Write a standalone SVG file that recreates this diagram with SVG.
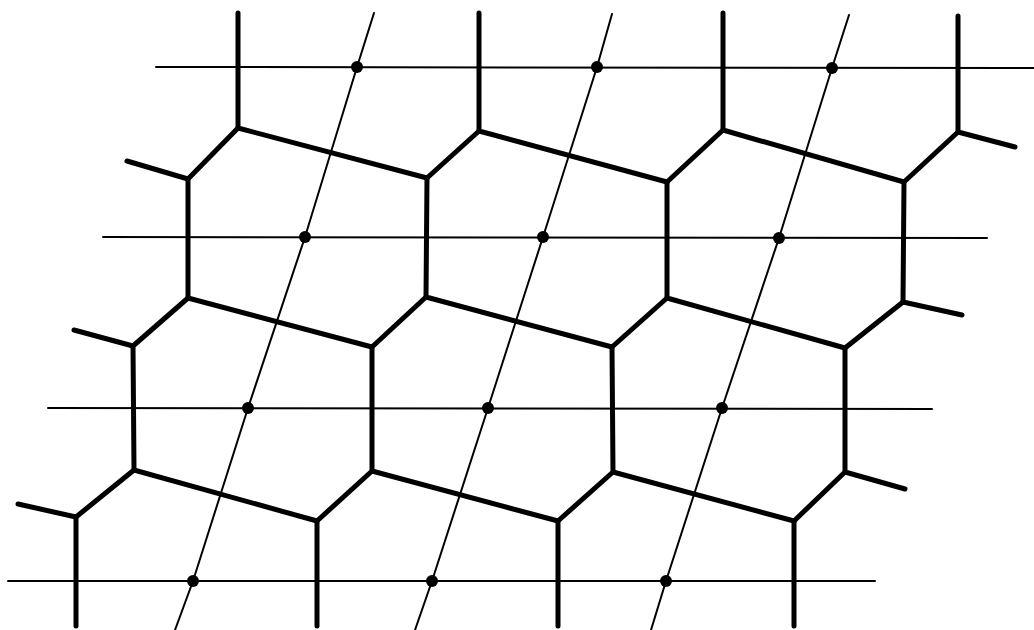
<svg xmlns="http://www.w3.org/2000/svg" width="1034" height="630" viewBox="0 0 1034 630">
<style>
.thin{stroke:#000;stroke-width:2;fill:none;stroke-linecap:round}
.thick{stroke:#000;stroke-width:5;fill:none;stroke-linecap:round;stroke-linejoin:round}
.dot{fill:#000}
</style>
<rect width="1034" height="630" fill="#fff"/>
<g id="lattice-lines">
<line class="thin" x1="156" y1="67" x2="1034" y2="68"/>
<line class="thin" x1="103" y1="237" x2="987" y2="238"/>
<line class="thin" x1="48" y1="408" x2="932" y2="409"/>
<line class="thin" x1="8" y1="581" x2="875" y2="581"/>
<polyline class="thin" points="374,13 357,67 305,237 248,408 193,581 175,630"/>
<polyline class="thin" points="612,14 597,67 543,237 488,408 432,581 415,630"/>
<polyline class="thin" points="849,15 832,68 779,238 722,408 666,581 651,630"/>
</g>
<g id="cells">
<!-- row 1 -->
<polyline class="thick" points="238,13 238,128 427,178"/>
<polyline class="thick" points="127,161 188,179 238,128"/>
<polyline class="thick" points="479,13 479,131 667,182"/>
<polyline class="thick" points="427,178 479,131"/>
<polyline class="thick" points="723,13 723,130 904,182"/>
<polyline class="thick" points="667,182 723,130"/>
<polyline class="thick" points="958,16 958,132 1015,147"/>
<polyline class="thick" points="904,182 958,132"/>
<!-- row 2 -->
<polyline class="thick" points="188,179 188,298 372,347"/>
<polyline class="thick" points="74,330 133,346 188,298"/>
<polyline class="thick" points="427,178 426,297 612,347"/>
<polyline class="thick" points="372,347 426,297"/>
<polyline class="thick" points="667,182 667,298 845,348"/>
<polyline class="thick" points="612,347 667,298"/>
<polyline class="thick" points="904,182 903,302 962,315"/>
<polyline class="thick" points="845,348 903,302"/>
<!-- row 3 -->
<polyline class="thick" points="133,346 134,470 317,521"/>
<polyline class="thick" points="18,504 76,517 134,470"/>
<polyline class="thick" points="372,347 372,471 558,521"/>
<polyline class="thick" points="317,521 372,471"/>
<polyline class="thick" points="612,347 613,472 794,521"/>
<polyline class="thick" points="558,521 613,472"/>
<polyline class="thick" points="845,348 845,472 905,489"/>
<polyline class="thick" points="794,521 845,472"/>
<!-- bottom verticals -->
<line class="thick" x1="76" y1="517" x2="76" y2="626"/>
<line class="thick" x1="317" y1="521" x2="317" y2="626"/>
<line class="thick" x1="558" y1="521" x2="558" y2="626"/>
<line class="thick" x1="794" y1="521" x2="794" y2="626"/>
</g>
<g id="p00"><circle class="dot" cx="357" cy="67" r="6"/></g>
<g id="p10"><circle class="dot" cx="597" cy="67" r="6"/></g>
<g id="p20"><circle class="dot" cx="832" cy="68" r="6"/></g>
<g id="p01"><circle class="dot" cx="305" cy="237" r="6"/></g>
<g id="p11"><circle class="dot" cx="543" cy="237" r="6"/></g>
<g id="p21"><circle class="dot" cx="779" cy="238" r="6"/></g>
<g id="p02"><circle class="dot" cx="248" cy="408" r="6"/></g>
<g id="p12"><circle class="dot" cx="488" cy="408" r="6"/></g>
<g id="p22"><circle class="dot" cx="722" cy="408" r="6"/></g>
<g id="p03"><circle class="dot" cx="193" cy="581" r="6"/></g>
<g id="p13"><circle class="dot" cx="432" cy="581" r="6"/></g>
<g id="p23"><circle class="dot" cx="666" cy="581" r="6"/></g>
</svg>
